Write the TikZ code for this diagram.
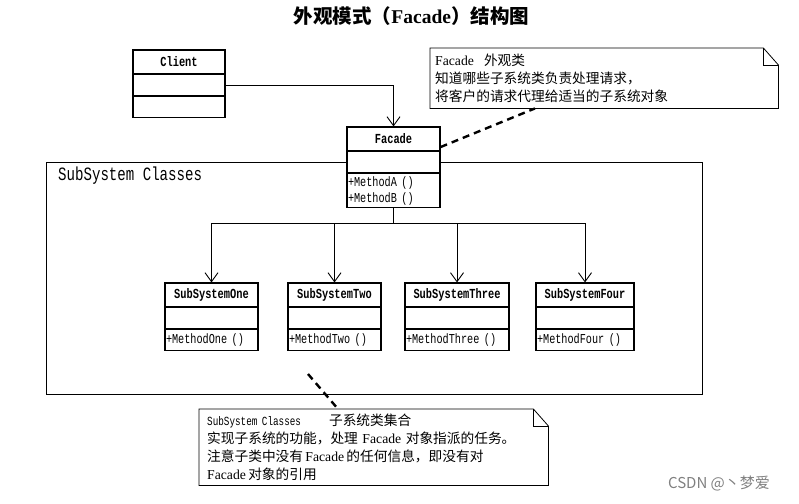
\documentclass[tikz,border=0pt]{standalone}
\usepackage{fontspec}
\setmainfont{Liberation Serif}
\newfontfamily\umlfont{Liberation Mono}[FakeStretch=0.75]
\newfontfamily\cjk{Noto Sans CJK SC}
\usetikzlibrary{arrows.meta}
\usetikzlibrary{positioning}
\newcommand\zh[1]{{\cjk #1}}
\newcommand\clsfont{\fontsize{13.8}{15}\umlfont\bfseries}
\newcommand\opsfont{\fontsize{13.6}{16}\umlfont}
\newcommand\notefont{\fontsize{13.7}{18}\selectfont}
\newcommand\notepath[1]{%
  \draw[line width=.8pt] (#1.north west) -- ([xshift=-15pt]#1.north east) -- ([yshift=-17pt]#1.north east)
    -- (#1.south east) -- (#1.south west) -- cycle;
  \draw[line width=.8pt] ([xshift=-15pt]#1.north east) |- ([yshift=-17pt]#1.north east);}
\tikzstyle{clsname}=[draw,fill=white,line width=1.1pt,inner sep=0pt,minimum height=23.5pt,font=\clsfont]
\tikzstyle{clsrow}=[draw,fill=white,line width=1.1pt,inner xsep=1pt,inner ysep=0pt,minimum height=21pt,align=left,font=\opsfont]
\tikzstyle{notebox}=[inner ysep=0pt,anchor=north west,align=left,font=\notefont]
\tikzstyle{notelink}=[line width=2.4pt,dash pattern=on 7pt off 5pt]
\tikzstyle{navi}=[line width=.9pt,>/.tip={Straight Barb[length=9pt,width=13pt]},->]
\begin{document}
\begin{tikzpicture}[x=1pt,y=-1pt]
	\useasboundingbox (0,0) rectangle (799,503);
	\node[font=\fontsize{19.5}{22}\selectfont\bfseries] (title) at (411.5,16) {\zh{外观模式（}Facade\zh{）结构图}};
	% subsystem package
	\node[draw,line width=1pt,anchor=north west,minimum width=656pt,minimum height=232pt,inner sep=0pt] (subsys) at (46,162) {};
	\node[anchor=west,inner sep=0pt,font=\fontsize{18.8}{20}\umlfont] (subsyslabel) at (58,176) {SubSystem Classes};
	% classes
	\node[clsname,minimum width=92pt] (client) at (179,61.75) {Client};
	\node[clsrow,below=0pt of client,text width=90pt] (client-attr) {};
	\node[clsrow,below=0pt of client-attr,text width=90pt] (client-op) {};
	\node[clsname,minimum width=93pt] (facade) at (393.5,138.75) {Facade};
	\node[clsrow,below=0pt of facade,text width=91pt] (facade-attr) {};
	\node[clsrow,below=0pt of facade-attr,text width=91pt,minimum height=34pt] (facade-op) {+MethodA ()\\+MethodB ()};
	\node[clsname,minimum width=93pt] (one) at (211.5,294.75) {SubSystemOne};
	\node[clsrow,below=0pt of one,text width=91pt] (one-attr) {};
	\node[clsrow,below=0pt of one-attr,text width=91pt] (one-op) {+MethodOne ()};
	\node[clsname,minimum width=93pt] (two) at (334.5,294.75) {SubSystemTwo};
	\node[clsrow,below=0pt of two,text width=91pt] (two-attr) {};
	\node[clsrow,below=0pt of two-attr,text width=91pt] (two-op) {+MethodTwo ()};
	\node[clsname,minimum width=104pt] (three) at (457,294.75) {SubSystemThree};
	\node[clsrow,below=0pt of three,text width=102pt] (three-attr) {};
	\node[clsrow,below=0pt of three-attr,text width=102pt] (three-op) {+MethodThree ()};
	\node[clsname,minimum width=98pt] (four) at (585,294.75) {SubSystemFour};
	\node[clsrow,below=0pt of four,text width=96pt] (four-attr) {};
	\node[clsrow,below=0pt of four-attr,text width=96pt] (four-op) {+MethodFour ()};
	% notes
	\node[notebox,minimum width=348pt,minimum height=60pt,text width=338pt,inner xsep=5pt] (facadenote) at (430,48)
		{Facade\hspace{10pt}\zh{外观类}\\\zh{知道哪些子系统类负责处理请求，}\\\zh{将客户的请求代理给适当的子系统对象}};
	\notepath{facadenote}
	\node[notebox,minimum width=349pt,minimum height=76pt,text width=333pt,inner xsep=8pt] (subsysnote) at (199,409)
		{{\fontsize{12.4}{18}\umlfont SubSystem Classes}\hspace{28pt}\zh{子系统类集合}\\
		 \zh{实现子系统的功能，处理} Facade \zh{对象指派的任务。}\\
		 \zh{注意子类中没有}\,Facade\,\zh{的任何信息，即没有对}\\
		 Facade\,\zh{对象的引用}};
	\notepath{subsysnote}
	% connectors
	\coordinate (branch) at (393.5,223);
	\coordinate (subsysnote-end) at (308,374);
	\draw[navi] (client-attr.east) -| (facade.north);
	\draw[line width=.9pt] (facade-op.south) -- (branch);
	\draw[navi] (branch) -| (one.north);
	\draw[navi] (branch) -| (two.north);
	\draw[navi] (branch) -| (three.north);
	\draw[navi] (branch) -| (four.north);
	\draw[notelink] ([yshift=4pt]facade.south east) -- ([xshift=105pt]facadenote.south west);
	\draw[notelink] (subsysnote-end) -- ([xshift=139pt]subsysnote.north west);
	\node[font=\fontsize{15}{16}\cjk,text=gray] (mark) at (719,483) {CSDN @丶梦爱};
\end{tikzpicture}
\end{document}
